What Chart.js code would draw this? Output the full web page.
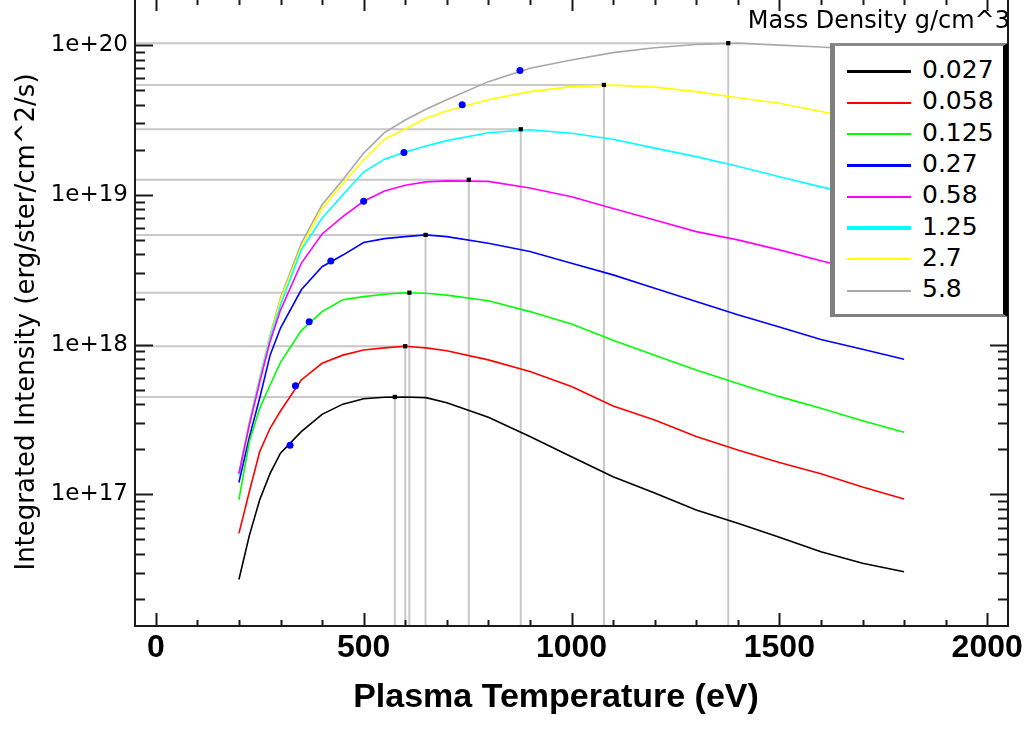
<!DOCTYPE html>
<html>
<head>
<meta charset="utf-8">
<script src="https://cdn.jsdelivr.net/npm/chart.js@4.4.1/dist/chart.umd.min.js"></script>
<style>
    body { margin: 0; background: #fff; }
    #wrap { position: relative; width: 1033px; height: 740px; }
    #legend-title {
        position: absolute; right: 23px; top: 8px;
        font: 24px "DejaVu Sans"; line-height: 24px; color: #000; white-space: nowrap;
    }
    #legend {
        position: absolute; left: 830px; top: 43px; width: 178px; height: 274px;
        box-sizing: border-box; background: #fff;
        border-left: 5px solid #7f7f7f; border-top: 3px solid #8a8a8a;
        border-right: 5px solid #000; border-bottom: 3px solid #7f7f7f;
        padding-top: 10px;
    }
    .row { display: flex; align-items: center; height: 31.3px; }
    .swatch { margin-left: 12px; width: 64px; }
    .label { margin-left: 11px; font: 25px "DejaVu Sans"; line-height: 25px; position: relative; top: -2px; }
</style>
</head>
<body>
<div id="wrap">
    <canvas id="chart" width="1033" height="740"></canvas>
    <div id="legend-title">Mass Density g/cm^3</div>
    <div id="legend"></div>
</div>
<script>
// Plasma temperature grid (eV)
const temperatures = [200, 225, 250, 275, 300, 350, 400, 450, 500, 550, 600, 650, 700, 800, 900, 1000, 1100, 1200, 1300, 1400, 1500, 1600, 1700, 1800];

// Integrated intensity per mass density (erg/ster/cm^2/s)
const int0027 = [2.7e16, 5.3e16, 9.2e16, 1.38e17, 1.88e17, 2.62e17, 3.42e17, 4.0e17, 4.35e17, 4.45e17, 4.47e17, 4.42e17, 4.09e17, 3.27e17, 2.43e17, 1.78e17, 1.31e17, 1.02e17, 7.87e16, 6.4e16, 5.16e16, 4.14e16, 3.46e16, 3.04e16];
const int0058 = [5.48e16, 1.04e17, 1.93e17, 2.76e17, 3.6e17, 5.8e17, 7.5e17, 8.5e17, 9.2e17, 9.5e17, 9.75e17, 9.5e17, 9.1e17, 7.9e17, 6.6e17, 5.24e17, 3.89e17, 3.13e17, 2.43e17, 1.98e17, 1.63e17, 1.37e17, 1.12e17, 9.3e16];
const int0125 = [9.2e16, 2.24e17, 3.75e17, 5.37e17, 7.6e17, 1.24e18, 1.66e18, 1.99e18, 2.09e18, 2.17e18, 2.22e18, 2.2e18, 2.14e18, 1.96e18, 1.66e18, 1.37e18, 1.07e18, 8.5e17, 6.76e17, 5.5e17, 4.49e17, 3.75e17, 3.1e17, 2.6e17];
const int027 = [1.2e17, 2.4e17, 4.4e17, 8.5e17, 1.29e18, 2.32e18, 3.31e18, 3.96e18, 4.8e18, 5.1e18, 5.26e18, 5.4e18, 5.26e18, 4.75e18, 4.18e18, 3.49e18, 2.92e18, 2.38e18, 1.94e18, 1.58e18, 1.31e18, 1.08e18, 9.3e17, 7.98e17];
const int058 = [1.38e17, 2.9e17, 5.6e17, 1.05e18, 1.7e18, 3.49e18, 5.48e18, 7.15e18, 9.06e18, 1.06e19, 1.16e19, 1.22e19, 1.24e19, 1.23e19, 1.11e19, 9.7e18, 8.1e18, 6.8e18, 5.68e18, 5.0e18, 4.29e18, 3.63e18, 3.1e18, 2.65e18];
const int125 = [1.35e17, 2.95e17, 5.8e17, 1.1e18, 1.84e18, 4.29e18, 6.98e18, 1.0e19, 1.42e19, 1.73e19, 1.93e19, 2.12e19, 2.3e19, 2.6e19, 2.72e19, 2.58e19, 2.35e19, 2.05e19, 1.8e19, 1.55e19, 1.32e19, 1.13e19, 9.8e18, 8.5e18];
const int27 = [1.36e17, 3.0e17, 5.9e17, 1.13e18, 1.99e18, 4.5e18, 8.1e18, 1.19e19, 1.71e19, 2.35e19, 2.75e19, 3.25e19, 3.63e19, 4.31e19, 4.89e19, 5.28e19, 5.4e19, 5.24e19, 4.89e19, 4.45e19, 4.09e19, 3.6e19, 3.2e19, 2.85e19];
const int58 = [1.37e17, 3.05e17, 6.0e17, 1.16e18, 2.05e18, 4.75e18, 8.6e18, 1.26e19, 1.9e19, 2.6e19, 3.16e19, 3.73e19, 4.31e19, 5.7e19, 7.01e19, 7.96e19, 8.9e19, 9.6e19, 1.01e20, 1.03e20, 1.0e20, 9.7e19, 9.3e19, 8.9e19];

const densities = ['0.027', '0.058', '0.125', '0.27', '0.58', '1.25', '2.7', '5.8'];
const seriesValues = [int0027, int0058, int0125, int027, int058, int125, int27, int58];
const seriesColors = ['#000000', '#ff0000', '#00ff00', '#0000ff', '#ff00ff', '#00ffff', '#ffff00', '#a8a8a8'];
const legendWidths = [3, 2, 2, 3, 2, 3.5, 2, 2];

// Peak of each curve (black squares) and marked points on the rising side (blue dots)
const peakTemps = [575, 600, 610, 649, 753, 878, 1078, 1377];
const peakValues = [4.47e17, 9.75e17, 2.22e18, 5.4e18, 1.26e19, 2.74e19, 5.42e19, 1.03e20];
const dotTemps = [323, 336, 369, 421, 500, 597, 737, 876];
const dotValues = [2.13e17, 5.31e17, 1.42e18, 3.62e18, 9.06e18, 1.92e19, 3.99e19, 6.76e19];

// Axis ranges and tick labels
const xMin = -50, xMax = 2050;
const yMin = 1.32e16, yMax = 2.0e20;
const xTickValues = [0, 500, 1000, 1500, 2000];
const yTickValues = [1e17, 1e18, 1e19, 1e20];
const xMinorStep = 100;

const datasets = [];

// curves
seriesValues.forEach((vals, i) => {
    datasets.push({
        label: densities[i],
        data: temperatures.map((t, j) => ({ x: t, y: vals[j] })),
        borderColor: seriesColors[i],
        borderWidth: 1.6,
        pointRadius: 0,
        tension: 0,
        order: 2
    });
});

// guide lines from the axes to each peak
peakTemps.forEach((t, i) => {
    datasets.push({
        label: 'guide' + i,
        data: [{ x: xMin, y: peakValues[i] }, { x: t, y: peakValues[i] }, { x: t, y: yMin }],
        borderColor: '#c8c8c8',
        borderWidth: 2,
        pointRadius: 0,
        tension: 0,
        order: 3
    });
});

datasets.push({
    label: 'peaks',
    data: peakTemps.map((t, i) => ({ x: t, y: peakValues[i] })),
    showLine: false,
    pointStyle: 'rect',
    pointRadius: 3,
    pointBackgroundColor: '#000',
    pointBorderColor: '#000',
    pointBorderWidth: 0,
    order: 1
});
datasets.push({
    label: 'marks',
    data: dotTemps.map((t, i) => ({ x: t, y: dotValues[i] })),
    showLine: false,
    pointStyle: 'circle',
    pointRadius: 3.5,
    pointBackgroundColor: '#0000ff',
    pointBorderColor: '#0000ff',
    pointBorderWidth: 0,
    order: 1
});

// frame, inward tick marks and axis titles
const framePlugin = {
    id: 'framePlugin',
    afterDatasetsDraw(chart) {
        const { ctx, chartArea: a, scales: { x, y } } = chart;
        ctx.save();
        ctx.strokeStyle = '#1a1a1a';
        ctx.lineWidth = 2;
        ctx.beginPath();
        ctx.moveTo(a.left, a.top);
        ctx.lineTo(a.left, a.bottom);
        ctx.lineTo(a.right, a.bottom);
        ctx.lineTo(a.right, a.top);
        ctx.stroke();

        ctx.beginPath();
        for (let v = 0; v <= 2000; v += xMinorStep) {
            const px = Math.round(x.getPixelForValue(v)) + 0.5;
            const major = v % 500 === 0;
            ctx.moveTo(px, a.bottom);
            ctx.lineTo(px, a.bottom - (major ? 13 : 6));
            ctx.moveTo(px, a.top);
            ctx.lineTo(px, a.top + (major ? 11 : 5));
        }
        for (let e = 16; e <= 20; e++) {
            for (let m = 1; m <= 9; m++) {
                const v = m * Math.pow(10, e);
                if (v < yMin || v >= yMax) continue;
                const py = Math.round(y.getPixelForValue(v)) + 0.5;
                const len = m === 1 ? 18 : 10;
                ctx.moveTo(a.left, py);
                ctx.lineTo(a.left + len, py);
                ctx.moveTo(a.right, py);
                ctx.lineTo(a.right - len, py);
            }
        }
        ctx.stroke();
        ctx.restore();
    },
    afterDraw(chart) {
        const { ctx } = chart;
        ctx.save();
        ctx.fillStyle = '#000';
        ctx.font = 'bold 34px "Liberation Sans"';
        ctx.textAlign = 'center';
        ctx.textBaseline = 'alphabetic';
        ctx.fillText('Plasma Temperature (eV)', 556, 707);
        ctx.translate(27, 322);
        ctx.rotate(-Math.PI / 2);
        ctx.font = '26px "DejaVu Sans"';
        ctx.textBaseline = 'middle';
        ctx.fillText('Integrated Intensity (erg/ster/cm^2/s)', 0, 0);
        ctx.restore();
    }
};

const chart = new Chart(document.getElementById('chart'), {
    type: 'line',
    data: { datasets: datasets },
    options: {
        responsive: false,
        animation: false,
        layout: { autoPadding: false, padding: { top: 0, right: 25, left: 0, bottom: 0 } },
        plugins: {
            legend: { display: false },
            tooltip: { enabled: false }
        },
        scales: {
            x: {
                type: 'linear',
                min: xMin,
                max: xMax,
                grid: { display: false, drawTicks: false },
                border: { display: false },
                afterBuildTicks: (scale) => {
                    scale.ticks = xTickValues.map(v => ({ value: v }));
                },
                afterFit: (scale) => {
                    scale.height = 114;
                    scale.paddingLeft = 0;
                    scale.paddingRight = 0;
                },
                ticks: {
                    autoSkip: false,
                    maxRotation: 0,
                    padding: 3,
                    color: '#000',
                    font: { family: 'Liberation Sans', size: 32, weight: 'bold' },
                    callback: (v) => String(v)
                }
            },
            y: {
                type: 'logarithmic',
                min: yMin,
                max: yMax,
                bounds: 'data',
                grid: { display: false, drawTicks: false },
                border: { display: false },
                afterBuildTicks: (scale) => {
                    scale.ticks = yTickValues.map(v => ({ value: v }));
                },
                afterFit: (scale) => {
                    scale.width = 135;
                    scale.paddingTop = 0;
                    scale.paddingBottom = 0;
                },
                ticks: {
                    autoSkip: false,
                    padding: 7,
                    color: '#000',
                    font: { family: 'DejaVu Sans', size: 23 },
                    callback: (v) => Number(v).toExponential()
                }
            }
        }
    },
    plugins: [framePlugin]
});

// legend built from the same series arrays
const legend = document.getElementById('legend');
densities.forEach((d, i) => {
    const row = document.createElement('div');
    row.className = 'row';
    const sw = document.createElement('div');
    sw.className = 'swatch';
    sw.style.height = legendWidths[i] + 'px';
    sw.style.background = seriesColors[i];
    const lb = document.createElement('div');
    lb.className = 'label';
    lb.textContent = d;
    row.appendChild(sw);
    row.appendChild(lb);
    legend.appendChild(row);
});
</script>
</body>
</html>
